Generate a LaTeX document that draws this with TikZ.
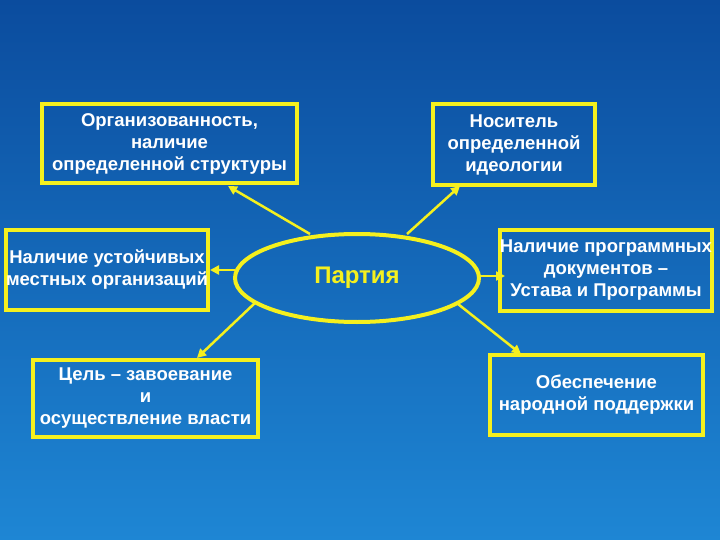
\documentclass[tikz,border=0pt]{standalone}
\usepackage{fontspec}
\setmainfont{Liberation Sans}
\usetikzlibrary{shapes.geometric,arrows.meta}
\definecolor{bgtop}{HTML}{0B4C9E}
\definecolor{bgbot}{HTML}{1E86D4}
\definecolor{yel}{HTML}{F5F01E}
\tikzset{
  box/.style={draw=yel,line width=3.5pt,text=white,align=center,
    font=\fontsize{18.5}{22}\selectfont\bfseries,inner sep=0pt},
  arr/.style={draw=yel,line width=2.5pt,-{Triangle[length=9pt,width=9pt]}}
}
\begin{document}
\begin{tikzpicture}[x=1pt,y=-1pt]
\shade[top color=bgtop,bottom color=bgbot] (0,0) rectangle (720,540);
\useasboundingbox (0,0) rectangle (720,540);
\node[box,minimum width=255pt,minimum height=79pt] (b1) at (169.5,143.5) {Организованность,\\наличие\\определенной структуры};
\node[box,minimum width=162pt,minimum height=81pt] (b2) at (514,144.5) {Носитель\\определенной\\идеологии};
\node[box,minimum width=200pt,minimum height=80pt] (b3) at (107,270) {Наличие устойчивых\\местных организаций};
\node[box,minimum width=198pt,minimum height=81pt] (b4) at (606,270.5) {Наличие программных\\документов –\\Устава и Программы};
\node[box,minimum width=225pt,minimum height=77pt] (b5) at (145.5,398.5) {Цель – завоевание\\и\\осуществление власти};
\node[box,minimum width=213pt,minimum height=80pt] (b6) at (596.5,395) {Обеспечение\\народной поддержки};
\node[ellipse,draw=yel,line width=4pt,minimum width=244pt,minimum height=88pt,text=yel,
  font=\fontsize{24}{26}\selectfont\bfseries] (p) at (357,278) {Партия};
\coordinate (s1) at (310,234);
\coordinate (s2) at (407,234);
\coordinate (s3) at (235,270);
\coordinate (s4) at (480,276);
\coordinate (s5) at (256,302);
\coordinate (s6) at (458,304);
\draw[arr] (s1) -- (228,186);
\draw[arr] (s2) -- (460,186);
\draw[arr] (s3) -- (210,270);
\draw[arr] (s4) -- (505,276);
\draw[arr] (s5) -- (197,358);
\draw[arr] (s6) -- (521,354);
\end{tikzpicture}
\end{document}
